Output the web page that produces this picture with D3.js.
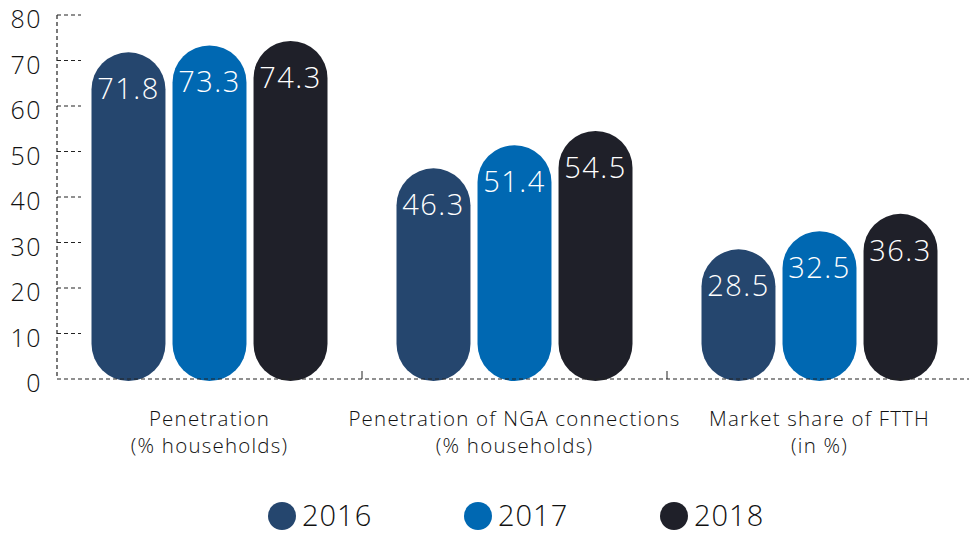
<!DOCTYPE html>
<html>
<head>
<meta charset="utf-8">
<script src="https://cdn.jsdelivr.net/npm/d3@7"></script>
<style>
  body { margin: 0; background: #fff; }
  svg { display: block; font-family: "Open Sans", "Lato", sans-serif; }
</style>
</head>
<body>
<svg id="chart" width="969" height="536"></svg>
<script>
var categories = [
  ["Penetration", "(% households)"],
  ["Penetration of NGA connections", "(% households)"],
  ["Market share of FTTH", "(in %)"]
];
var years = ["2016", "2017", "2018"];
var values2016 = [71.8, 46.3, 28.5];
var values2017 = [73.3, 51.4, 32.5];
var values2018 = [74.3, 54.5, 36.3];
var yTicks = [0, 10, 20, 30, 40, 50, 60, 70, 80];

var colors = ["#25466e", "#0068b2", "#1f2029"];
var series = [values2016, values2017, values2018];

var svg = d3.select("#chart");
var plotLeft = 57, plotRight = 972, plotTop = 15, plotBottom = 379;

var x0 = d3.scaleBand().domain(d3.range(categories.length)).range([plotLeft, plotRight]);
var x1 = d3.scaleBand().domain(d3.range(years.length)).range([0, 236]).paddingInner(0.087);
var y = d3.scaleLinear().domain([0, 80]).range([plotBottom, plotTop]);

// y axis dashed line
svg.append("line")
  .attr("x1", plotLeft).attr("x2", plotLeft)
  .attr("y1", y(80)).attr("y2", plotBottom)
  .attr("stroke", "#222").attr("stroke-width", 1.2)
  .attr("stroke-dasharray", "4,3");

// tick dashes
svg.selectAll(".ytick").data(yTicks.filter(function (d) { return d > 0; }))
  .enter().append("line")
  .attr("x1", plotLeft).attr("x2", plotLeft + 24)
  .attr("y1", function (d) { return y(d); })
  .attr("y2", function (d) { return y(d); })
  .attr("stroke", "#222").attr("stroke-width", 1.2)
  .attr("stroke-dasharray", "4,3");

svg.selectAll(".ylab").data(yTicks)
  .enter().append("text")
  .attr("x", 42)
  .attr("y", function (d) { return y(d) + 13; })
  .attr("text-anchor", "end")
  .attr("font-size", 25)
  .attr("font-weight", 300)
  .attr("letter-spacing", 1.5)
  .attr("fill", "#111")
  .text(function (d) { return d; });

// bars (pill shapes)
var groups = svg.selectAll(".grp").data(categories)
  .enter().append("g")
  .attr("transform", function (d, i) {
    return "translate(" + (x0(i) + x0.bandwidth() / 2 - 118) + ",0)";
  });

groups.each(function (c, ci) {
  var g = d3.select(this);
  years.forEach(function (yr, si) {
    var v = series[si][ci];
    var w = x1.bandwidth();
    g.append("rect")
      .attr("x", x1(si))
      .attr("y", y(v))
      .attr("width", w)
      .attr("height", plotBottom + 2 - y(v))
      .attr("rx", w / 2)
      .attr("fill", colors[si]);
    g.append("text")
      .attr("x", x1(si) + w / 2)
      .attr("y", y(v) + 47)
      .attr("text-anchor", "middle")
      .attr("font-size", 29)
      .attr("font-weight", 300)
      .attr("letter-spacing", 1.5)
      .attr("fill", "#fff")
      .text(v.toFixed(1));
  });
});

// x baseline
svg.append("line")
  .attr("x1", plotLeft).attr("x2", 969)
  .attr("y1", plotBottom).attr("y2", plotBottom)
  .attr("stroke", "#222").attr("stroke-width", 1.2)
  .attr("stroke-dasharray", "4,3");

// category separators
svg.selectAll(".xtick").data([1, 2])
  .enter().append("line")
  .attr("x1", function (d) { return x0(d); })
  .attr("x2", function (d) { return x0(d); })
  .attr("y1", plotBottom - 8).attr("y2", plotBottom)
  .attr("stroke", "#222").attr("stroke-width", 1);

// category labels
var catLab = svg.selectAll(".cat").data(categories)
  .enter().append("text")
  .attr("text-anchor", "middle")
  .attr("font-size", 20.5)
  .attr("font-weight", 300)
  .attr("letter-spacing", 1.2)
  .attr("fill", "#111");
catLab.each(function (d, i) {
  var t = d3.select(this);
  var cx = x0(i) + x0.bandwidth() / 2;
  d.forEach(function (line, li) {
    t.append("tspan").attr("x", cx).attr("y", 426 + li * 27).text(line);
  });
});

// legend
var legend = svg.selectAll(".leg").data(years)
  .enter().append("g")
  .attr("transform", function (d, i) { return "translate(" + (282 + i * 196) + ",516)"; });
legend.append("circle").attr("r", 14).attr("fill", function (d, i) { return colors[i]; });
legend.append("text")
  .attr("x", 20).attr("y", 10)
  .attr("font-size", 29)
  .attr("font-weight", 300)
  .attr("letter-spacing", 1)
  .attr("fill", "#111")
  .text(function (d) { return d; });
</script>
</body>
</html>
